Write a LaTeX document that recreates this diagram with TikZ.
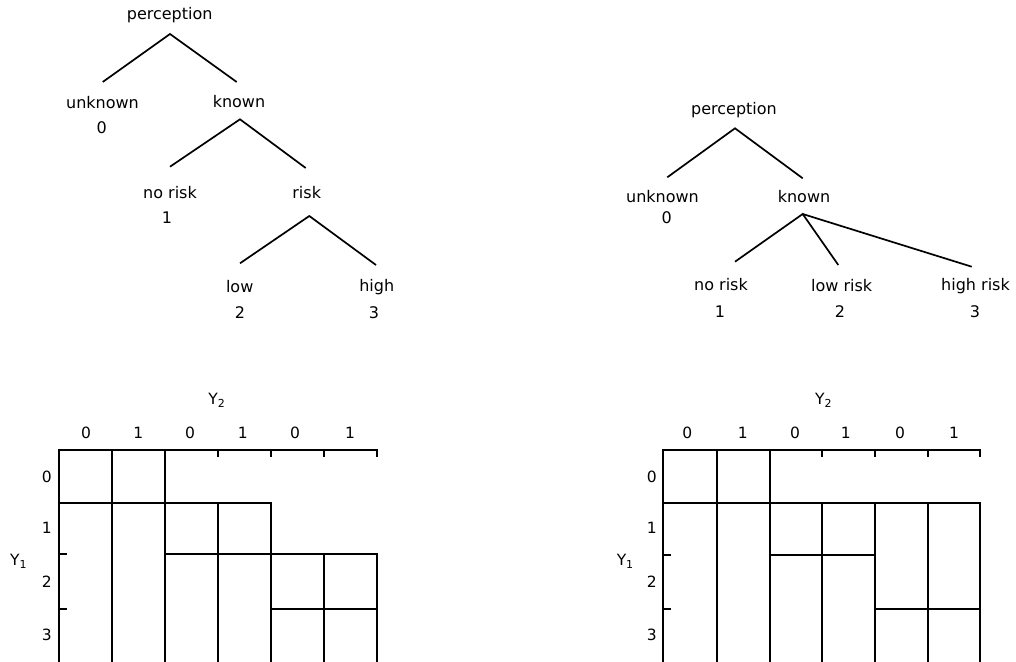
\documentclass[tikz,border=0pt]{standalone}
\usepackage{fontspec}
\setmainfont{DejaVu Sans}
\begin{document}
\begin{tikzpicture}[x=1pt,y=-1pt,
  lbl/.style={inner sep=0pt,font=\fontsize{16}{19}\selectfont},
  ax/.style={inner sep=0pt,font=\fontsize{15.5}{18}\selectfont},
  edge/.style={line width=1.7pt},
  grid/.style={line width=1.8pt,line cap=rect}]
\path[use as bounding box] (0,0) rectangle (1016,661);
\newcommand{\Ysub}[1]{Y\raisebox{-0.35ex}{\fontsize{11}{12}\selectfont #1}}

% ---------- left tree ----------
\node[lbl] (lp) at (169.7,15) {perception};
\node[lbl] (lunk) at (102.5,102.7) {unknown};
\node[lbl] (lunk0) at (101.7,127.7) {0};
\node[lbl] (lkn) at (239,102) {known};
\node[lbl] (lnr) at (170,193) {no risk};
\node[lbl] (lnr1) at (167,218) {1};
\node[lbl] (lrisk) at (306.7,193) {risk};
\node[lbl] (llow) at (239.7,287) {low};
\node[lbl] (llow2) at (240,313) {2};
\node[lbl] (lhigh) at (376.7,287) {high};
\node[lbl] (lhigh3) at (374,313) {3};
\coordinate (lpA) at (170,34);
\coordinate (lunkT) at (102.7,82);
\coordinate (lknT) at (236.7,82);
\coordinate (lknA) at (240,119.3);
\coordinate (lnrT) at (170,166.7);
\coordinate (lriskT) at (305.7,168);
\coordinate (lriskA) at (309.3,216);
\coordinate (llowT) at (240,263.3);
\coordinate (lhighT) at (376,265);
\draw[edge] (lunkT) -- (lpA) -- (lknT);
\draw[edge] (lnrT) -- (lknA) -- (lriskT);
\draw[edge] (llowT) -- (lriskA) -- (lhighT);

% ---------- right tree ----------
\node[lbl] (rp) at (734,110) {perception};
\node[lbl] (runk) at (662.5,196.7) {unknown};
\node[lbl] (runk0) at (666.7,218) {0};
\node[lbl] (rkn) at (804,196.7) {known};
\node[lbl] (rnr) at (721,285) {no risk};
\node[lbl] (rnr1) at (720,311.7) {1};
\node[lbl] (rlr) at (841.7,286) {low risk};
\node[lbl] (rlr2) at (840,312) {2};
\node[lbl] (rhr) at (975.5,286) {high risk};
\node[lbl] (rhr3) at (975,312) {3};
\coordinate (rpA) at (735,128.3);
\coordinate (runkT) at (667.3,177.3);
\coordinate (rknT) at (802.7,178.3);
\coordinate (rknA) at (802.7,214);
\coordinate (rnrT) at (735,261.7);
\coordinate (rlrT) at (838.3,265);
\coordinate (rhrT) at (971.7,266.7);
\draw[edge] (runkT) -- (rpA) -- (rknT);
\draw[edge] (rnrT) -- (rknA) -- (rlrT);
\draw[edge] (rknA) -- (rhrT);

% ---------- left grid ----------
\node[ax] (lY2) at (216.7,400) {\Ysub{2}};
\node[ax] (lY1) at (18.3,561.7) {\Ysub{1}};
\foreach \x/\t [count=\i] in {86/0,138.3/1,190/0,242.7/1,295/0,350/1}
  \node[ax] (lc\i) at (\x,433.3) {\t};
\foreach \y/\t [count=\i] in {476.7/0,528.3/1,581.7/2,635/3}
  \node[ax] (lr\i) at (46.7,\y) {\t};
\draw[grid] (59.3,661) -- (59.3,450) -- (376.7,450) -- (376.7,456.5);
\foreach \x in {218.3,270.7,324} \draw[grid] (\x,450) -- (\x,456.5);
\foreach \y in {554.3,609.3} \draw[grid] (59.3,\y) -- (66,\y);
\foreach \x in {111.7,165} \draw[grid] (\x,450) -- (\x,661);
\draw[grid] (59.3,502.7) -- (270.7,502.7);
\foreach \x in {218.3,270.7} \draw[grid] (\x,502.7) -- (\x,661);
\draw[grid] (165,554.3) -- (376.7,554.3);
\foreach \x in {324,376.7} \draw[grid] (\x,554.3) -- (\x,661);
\draw[grid] (270.7,609.3) -- (376.7,609.3);

% ---------- right grid ----------
\node[ax] (rY2) at (823.3,400) {\Ysub{2}};
\node[ax] (rY1) at (625,561.7) {\Ysub{1}};
\foreach \x/\t [count=\i] in {687.3/0,742.7/1,795/0,845.7/1,900/0,954/1}
  \node[ax] (rc\i) at (\x,433.3) {\t};
\foreach \y/\t [count=\i] in {476.7/0,528.3/1,581.7/2,635/3}
  \node[ax] (rr\i) at (651.7,\y) {\t};
\draw[grid] (663.3,661) -- (663.3,450) -- (980,450) -- (980,456.5);
\foreach \x in {822.3,875,928.3} \draw[grid] (\x,450) -- (\x,456.5);
\foreach \y in {555,608.7} \draw[grid] (663.3,\y) -- (670,\y);
\foreach \x in {716.7,770} \draw[grid] (\x,450) -- (\x,661);
\draw[grid] (663.3,502.7) -- (980,502.7);
\foreach \x in {822.3,875,928.3,980} \draw[grid] (\x,502.7) -- (\x,661);
\draw[grid] (770,555) -- (875,555);
\draw[grid] (875,608.7) -- (980,608.7);
\end{tikzpicture}
\end{document}
